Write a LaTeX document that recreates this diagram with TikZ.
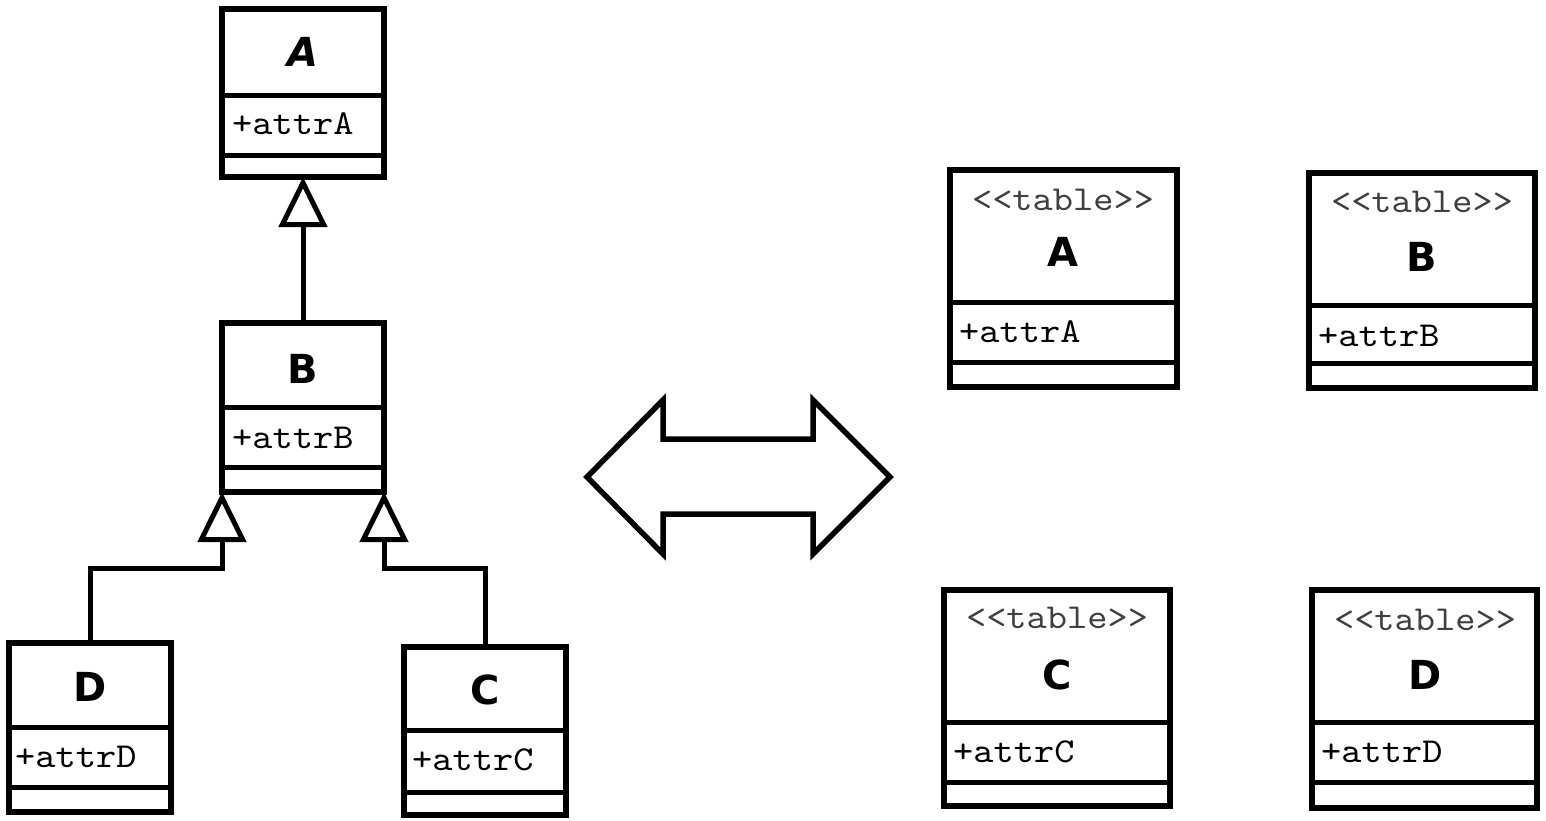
\documentclass[tikz,border=0pt]{standalone}
\usepackage{fontspec}
\newfontfamily\ttlfont{DejaVu Sans}
\newfontfamily\monofont{lmmono10-regular.otf}[FakeStretch=1.1]
\usetikzlibrary{arrows.meta}
\tikzset{
  classbox/.style={draw, line width=5.5pt, inner sep=0pt, outer sep=0pt, anchor=north west},
  divider/.style={line width=5pt},
  ttl/.style={inner sep=0pt, font=\ttlfont\bfseries\fontsize{40}{44}\selectfont},
  attr/.style={inner sep=0pt, anchor=west, font=\monofont\fontsize{35}{38}\selectfont},
  stereo/.style={inner sep=0pt, text=black!75, font=\monofont\fontsize{35}{38}\selectfont},
  gen/.style={line width=5pt, -{Triangle[open, length=50pt, width=48pt]}},
  bigarrow/.style={line width=5.5pt, line join=miter}
}
\newcommand\umlbox[7]{%
  \node[classbox, minimum width={#4-#2}, minimum height={#5-#3}] (#1) at (#2,#3) {};
  \draw[divider] (#2,#6) -- (#4,#6);
  \draw[divider] (#2,#7) -- (#4,#7);
}
\begin{document}
\begin{tikzpicture}[x=1pt,y=-1pt]
\useasboundingbox (0,0) rectangle (1546,820);
% left class hierarchy
\umlbox{A}{222}{9}{384}{177}{95}{155}
\node[ttl, font=\ttlfont\bfseries\itshape\fontsize{40}{44}\selectfont] (At) at (303,52) {A};
\node[attr] (Aa) at (232,124) {+attrA};
\umlbox{B}{222}{323}{384}{492}{407}{467}
\node[ttl] (Bt) at (303,369) {B};
\node[attr] (Ba) at (232,438) {+attrB};
\umlbox{D}{9}{643}{171}{812}{727}{787}
\node[ttl] (Dt) at (90,687) {D};
\node[attr] (Da) at (15,757) {+attrD};
\umlbox{C}{404}{647}{566}{815}{730}{792}
\node[ttl] (Ct) at (485,690) {C};
\node[attr] (Ca) at (412,760) {+attrC};
% generalizations
\coordinate (jd) at (222,568);
\coordinate (jc) at (384,568);
\draw[gen] (B.north) -- (A.south);
\draw[gen] (D.north) |- (jd) -- (B.south west);
\draw[gen] (C.north) |- (jc) -- (B.south east);
% double arrow
\draw[bigarrow] (587,477) -- (663,400) -- (663,439) -- (813,439) -- (813,400)
  -- (890,477) -- (813,554) -- (813,514) -- (663,514) -- (663,554) -- cycle;
% tables
\umlbox{TA}{950}{170}{1177}{387}{302}{362}
\node[stereo] (TAs) at (1063,200) {<<table>>};
\node[ttl] (TAt) at (1063,252) {A};
\node[attr] (TAa) at (959,332) {+attrA};
\umlbox{TB}{1309}{173}{1535}{388}{305}{363}
\node[stereo] (TBs) at (1422,202) {<<table>>};
\node[ttl] (TBt) at (1422,257) {B};
\node[attr] (TBa) at (1318,336) {+attrB};
\umlbox{TC}{944}{590}{1170}{806}{722}{782}
\node[stereo] (TCs) at (1057,618) {<<table>>};
\node[ttl] (TCt) at (1057,675) {C};
\node[attr] (TCa) at (953,752) {+attrC};
\umlbox{TD}{1312}{590}{1537}{808}{722}{782}
\node[stereo] (TDs) at (1425,620) {<<table>>};
\node[ttl] (TDt) at (1425,675) {D};
\node[attr] (TDa) at (1321,752) {+attrD};
\end{tikzpicture}
\end{document}
